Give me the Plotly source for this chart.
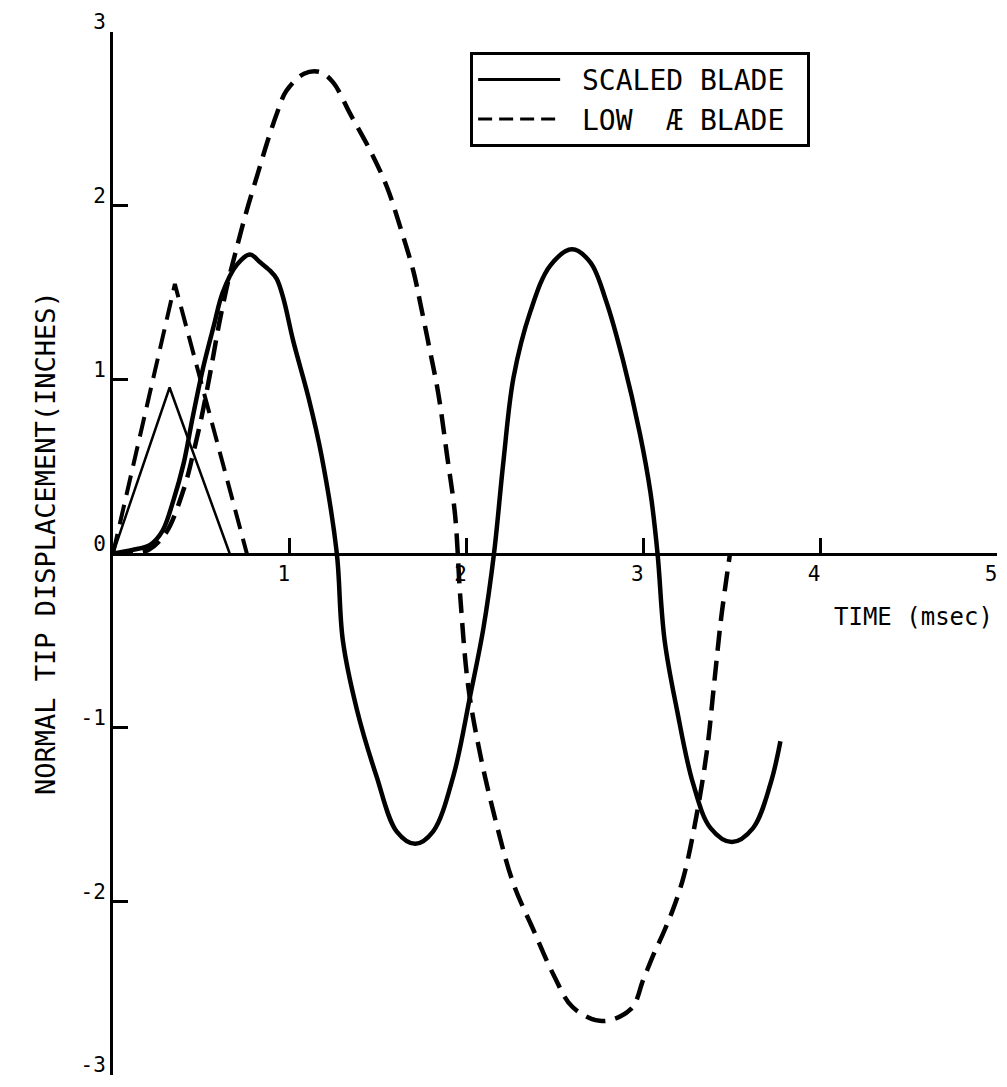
import plotly.graph_objects as go

# scaled blade response (solid)
scaled_t = [0, 0.11, 0.21, 0.28, 0.34, 0.40, 0.45, 0.51, 0.57, 0.62, 0.70, 0.775, 0.832, 0.888,
            0.926, 0.964, 1.02, 1.105, 1.18, 1.266, 1.30, 1.38, 1.49, 1.605, 1.71, 1.81, 1.925,
            2.02, 2.095, 2.155, 2.209, 2.265, 2.36, 2.473, 2.596, 2.70, 2.79, 2.885, 2.98, 3.04,
            3.08, 3.12, 3.19, 3.28, 3.38, 3.50, 3.62, 3.72, 3.775]
scaled_d = [0, 0.02, 0.05, 0.13, 0.30, 0.52, 0.78, 1.07, 1.31, 1.50, 1.66, 1.72, 1.675, 1.627,
            1.58, 1.466, 1.22, 0.90, 0.56, 0, -0.50, -0.90, -1.28, -1.60, -1.67, -1.60, -1.28,
            -0.82, -0.43, 0, 0.537, 1.01, 1.39, 1.656, 1.75, 1.675, 1.45, 1.11, 0.69, 0.35,
            0, -0.50, -0.90, -1.32, -1.58, -1.66, -1.58, -1.32, -1.08]

# low aspect ratio blade response (dashed)
lowar_t = [0, 0.10, 0.20, 0.30, 0.40, 0.45, 0.50, 0.55, 0.60, 0.65, 0.69, 0.75, 0.82, 0.88,
           0.93, 0.98, 1.08, 1.17, 1.245, 1.341, 1.454, 1.549, 1.624, 1.70, 1.74, 1.79, 1.84,
           1.89, 1.935, 1.965, 2.01, 2.08, 2.17, 2.265, 2.38, 2.49, 2.60, 2.765, 2.93, 3.00,
           3.06, 3.11, 3.17, 3.23, 3.30, 3.36, 3.40, 3.44, 3.49]
lowar_d = [0, 0.0, 0.02, 0.12, 0.37, 0.56, 0.78, 1.04, 1.32, 1.56, 1.72, 1.95, 2.19, 2.39,
           2.54, 2.66, 2.76, 2.77, 2.71, 2.53, 2.32, 2.11, 1.88, 1.62, 1.43, 1.18, 0.92,
           0.56, 0.22, -0.26, -0.77, -1.17, -1.56, -1.90, -2.17, -2.42, -2.61, -2.69, -2.62, -2.45,
           -2.30, -2.19, -2.04, -1.85, -1.51, -1.13, -0.75, -0.37, 0]

# triangular load pulses
pulse_scaled_t = [0, 0.32, 0.66]
pulse_scaled_d = [0, 0.955, 0]
pulse_lowar_t = [0, 0.35, 0.757]
pulse_lowar_d = [0, 1.55, 0]

x_ticks = [1, 2, 3, 4, 5]
y_ticks = [-3, -2, -1, 0, 1, 2, 3]
y_ticktext = ['-3', '-2', '-1', '0', '1', '2', '3']

font = 'DejaVu Sans Mono'
dash = '20px,10px'

fig = go.Figure()

fig.add_trace(go.Scatter(x=pulse_scaled_t, y=pulse_scaled_d, mode='lines', showlegend=False,
                         line=dict(color='black', width=2.5)))
fig.add_trace(go.Scatter(x=pulse_lowar_t, y=pulse_lowar_d, mode='lines', showlegend=False,
                         line=dict(color='black', width=4, dash=dash)))
fig.add_trace(go.Scatter(x=scaled_t, y=scaled_d, mode='lines', showlegend=False,
                         line=dict(color='black', width=4.5, shape='spline', smoothing=1)))
fig.add_trace(go.Scatter(x=lowar_t, y=lowar_d, mode='lines', showlegend=False,
                         line=dict(color='black', width=4.5, dash=dash, shape='spline', smoothing=1)))

# legend entries
fig.add_trace(go.Scatter(x=[None], y=[None], mode='lines', name=' SCALED BLADE ',
                         line=dict(color='black', width=3)))
fig.add_trace(go.Scatter(x=[None], y=[None], mode='lines', name=' LOW  Æ BLADE ',
                         line=dict(color='black', width=3, dash='14px,7px')))

# axis titles
fig.add_annotation(text='NORMAL TIP DISPLACEMENT(INCHES)', textangle=-90,
                   xref='paper', yref='paper', x=0, y=0.51, xshift=-68, xanchor='center',
                   yanchor='middle', showarrow=False,
                   font=dict(family=font, size=27, color='black'))
fig.add_annotation(text='TIME (msec)', xref='paper', yref='paper', x=0.906, y=0.439,
                   xanchor='center', yanchor='middle', showarrow=False,
                   font=dict(family=font, size=24, color='black'))

fig.update_xaxes(range=[0, 5], showline=True, linewidth=3, linecolor='black',
                 anchor='free', position=0.5, ticks='inside', ticklen=15, tickwidth=3,
                 tickcolor='black', tickvals=x_ticks, ticktext=[str(v) for v in x_ticks],
                 showgrid=False, zeroline=False, ticklabeloverflow='allow', ticklabelshift=-6,
                 tickfont=dict(family=font, size=21, color='black'))
# labels nudged up so the lowest one stays inside the page
fig.update_yaxes(range=[-3, 3], showline=True, linewidth=3, linecolor='black',
                 ticks='inside', ticklen=15, tickwidth=3, tickcolor='black',
                 tickvals=y_ticks, ticktext=y_ticktext, showgrid=False, zeroline=False,
                 ticklabeloverflow='allow', ticklabelshift=-10,
                 tickfont=dict(family=font, size=21, color='black'))

# page body has an 8px margin, so the figure is sized to sit inside it
fig.update_layout(
    width=991, height=1071,
    margin=dict(l=105, r=2, t=12, b=4),
    paper_bgcolor='white', plot_bgcolor='white',
    legend=dict(x=0.404, y=0.981, xanchor='left', yanchor='top',
                bordercolor='black', borderwidth=3, bgcolor='white',
                font=dict(family=font, size=28, color='black'),
                itemwidth=82, tracegroupgap=0),
)

fig.write_html('out.html')
